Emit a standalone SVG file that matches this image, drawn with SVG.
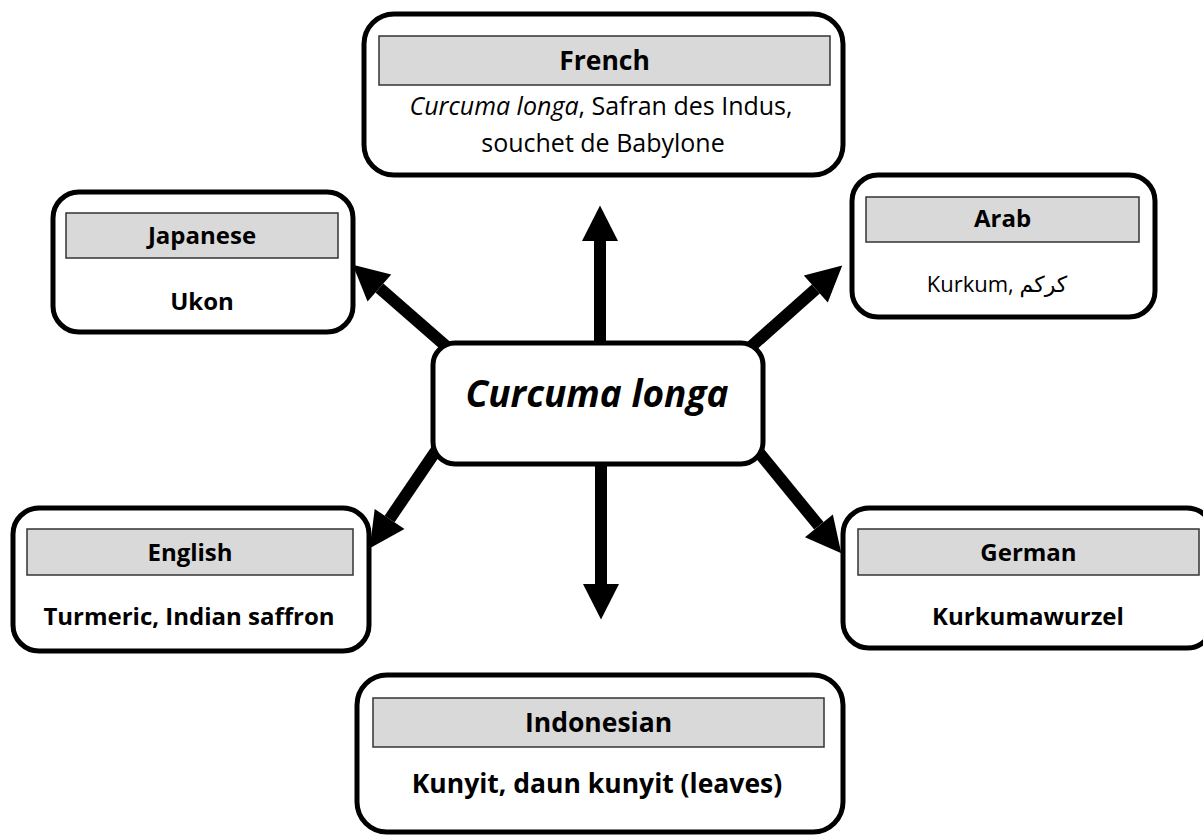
<svg xmlns="http://www.w3.org/2000/svg" width="1203" height="835" viewBox="0 0 1203 835">
  <style>
    .box { fill: #ffffff; stroke: #000000; stroke-width: 5; }
    .hdr { fill: #d9d9d9; stroke: #333333; stroke-width: 1.5; }
    text { font-family: "Open Sans", "Noto Sans", "DejaVu Sans", sans-serif; fill: #000000; text-anchor: middle; }
    .h { font-size: 24px; font-weight: bold; }
    .hl { font-size: 26.5px; font-weight: bold; }
    .b { font-size: 24px; font-weight: bold; }
    .bl { font-size: 26.5px; font-weight: bold; }
    .r { font-size: 25px; }
    .rs { font-size: 22px; }
    .main { font-size: 37px; font-weight: bold; font-style: italic; }
    .conn { stroke: #000000; stroke-width: 12; fill: none; marker-end: url(#head); }
  </style>
  <defs>
    <marker id="head" markerUnits="strokeWidth" markerWidth="3" markerHeight="3" refX="0" refY="1.5" orient="auto" overflow="visible">
      <path d="M0,0 L2.95,1.5 L0,3 Z" fill="#000000"/>
    </marker>
  </defs>
  <rect width="1203" height="835" fill="#ffffff"/>

  <!-- connectors: shafts end at the base of each head -->
  <g id="connectors">
    <line class="conn" x1="600" y1="350" x2="600" y2="241"/>
    <line class="conn" x1="601" y1="458" x2="601" y2="584"/>
    <line class="conn" x1="455" y1="354" x2="379.4" y2="288"/>
    <line class="conn" x1="745" y1="352" x2="815.8" y2="289"/>
    <line class="conn" x1="446" y1="436" x2="389.6" y2="519"/>
    <line class="conn" x1="752" y1="444" x2="818.9" y2="525.8"/>
  </g>

  <g id="center">
    <rect class="box" x="433" y="343" width="330" height="121" rx="22"/>
    <text class="main" x="597" y="407">Curcuma longa</text>
  </g>

  <g id="french">
    <rect class="box" x="364" y="14" width="479" height="161" rx="30"/>
    <rect class="hdr" x="379" y="36" width="451" height="49"/>
    <text class="hl" x="604.5" y="70">French</text>
    <text class="r" x="601" y="115"><tspan font-style="italic">Curcuma longa</tspan>, Safran des Indus,</text>
    <text class="r" x="603" y="152">souchet de Babylone</text>
  </g>

  <g id="japanese">
    <rect class="box" x="53" y="192" width="300" height="140" rx="26"/>
    <rect class="hdr" x="66" y="213" width="272" height="45"/>
    <text class="h" x="202" y="244">Japanese</text>
    <text class="b" x="202" y="310">Ukon</text>
  </g>

  <g id="arab">
    <rect class="box" x="852" y="175" width="303" height="142" rx="26"/>
    <rect class="hdr" x="866" y="197" width="273" height="45"/>
    <text class="h" x="1002.5" y="227">Arab</text>
    <text class="rs" x="997" y="292">Kurkum, كركم</text>
  </g>

  <g id="english">
    <rect class="box" x="13" y="508" width="356" height="143" rx="26"/>
    <rect class="hdr" x="27" y="529" width="326" height="46"/>
    <text class="h" x="190" y="561">English</text>
    <text class="b" x="189" y="625">Turmeric, Indian saffron</text>
  </g>

  <g id="german">
    <rect class="box" x="843" y="508" width="370" height="140" rx="26"/>
    <rect class="hdr" x="858" y="529" width="341" height="46"/>
    <text class="h" x="1028.5" y="561">German</text>
    <text class="b" x="1028" y="625">Kurkumawurzel</text>
  </g>

  <g id="indonesian">
    <rect class="box" x="357" y="675" width="486" height="157" rx="30"/>
    <rect class="hdr" x="373" y="698" width="451" height="49"/>
    <text class="hl" x="598.5" y="732">Indonesian</text>
    <text class="bl" x="597" y="793">Kunyit, daun kunyit (leaves)</text>
  </g>
</svg>
